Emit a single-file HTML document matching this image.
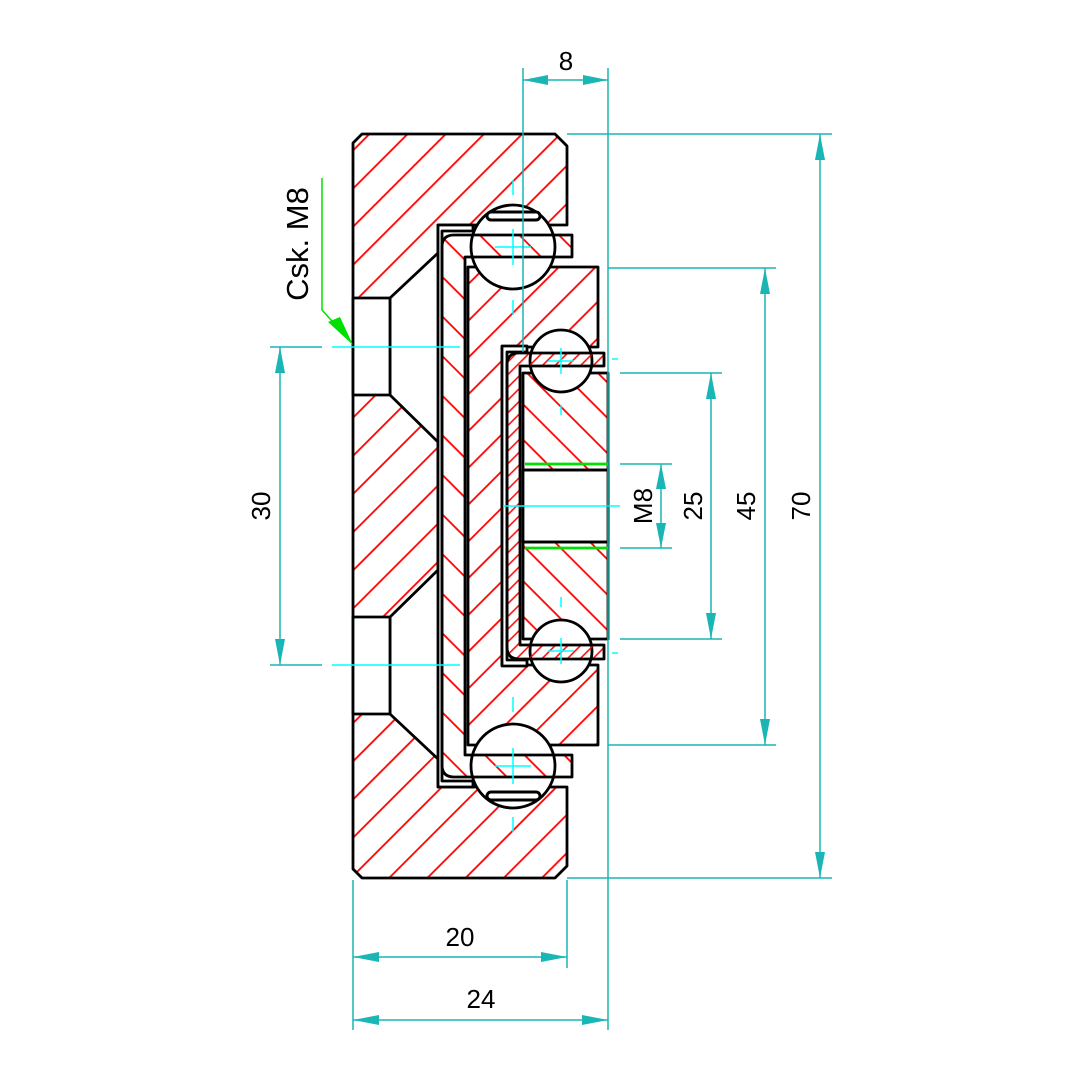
<!DOCTYPE html>
<html><head><meta charset="utf-8"><style>
html,body{margin:0;padding:0;background:#fff}
svg{display:block}
text{font-family:"Liberation Sans",sans-serif}
</style></head><body>
<svg width="1080" height="1080" viewBox="0 0 1080 1080" xmlns="http://www.w3.org/2000/svg">
<defs>
<pattern id="hA" width="27" height="27" patternUnits="userSpaceOnUse" patternTransform="rotate(45)"><line x1="5" y1="0" x2="5" y2="27" stroke="#f00" stroke-width="1.8"/></pattern>
<pattern id="hD" width="26" height="26" patternUnits="userSpaceOnUse" patternTransform="rotate(45)"><line x1="12" y1="0" x2="12" y2="26" stroke="#f00" stroke-width="1.8"/></pattern>
<pattern id="hC" width="28" height="28" patternUnits="userSpaceOnUse" patternTransform="rotate(-45)"><line x1="5" y1="0" x2="5" y2="28" stroke="#f00" stroke-width="1.8"/></pattern>
<pattern id="hG" width="25" height="25" patternUnits="userSpaceOnUse" patternTransform="rotate(-45)"><line x1="9" y1="0" x2="9" y2="25" stroke="#f00" stroke-width="1.8"/></pattern>
<pattern id="hF" width="9" height="9" patternUnits="userSpaceOnUse" patternTransform="rotate(45)"><line x1="3" y1="0" x2="3" y2="9" stroke="#f00" stroke-width="1.5"/></pattern>
</defs>

<g stroke="#000" stroke-width="2.8" stroke-linejoin="round">
<path d="M353,143 L362,134 L555,134 L567,146 L567,225 L438,225 L438,253 L390,298 L390,395 L438,442 L438,570 L390,617 L390,714 L438,759 L438,787 L567,787 L567,866 L555,878 L362,878 L353,869 Z" fill="url(#hA)"/>
<rect x="353" y="298" width="37" height="97" fill="#fff"/>
<rect x="353" y="617" width="37" height="97" fill="#fff"/>
<path d="M468,267 L598,267 L598,347 L502,347 L502,665 L598,665 L598,745 L468,745 Z" fill="url(#hD)"/>
<rect x="523" y="373" width="85" height="266" fill="url(#hG)"/>
<rect x="523" y="470" width="85" height="72" fill="#fff"/>
<circle cx="513" cy="247" r="42" fill="#fff"/>
<circle cx="513" cy="766" r="42" fill="#fff"/>
<rect x="487" y="212" width="53" height="8" rx="4" fill="#fff" stroke-width="3"/>
<rect x="487" y="792" width="53" height="8" rx="4" fill="#fff" stroke-width="3"/>
<circle cx="561" cy="361" r="31" fill="#fff"/>
<circle cx="561" cy="651" r="31" fill="#fff"/>
<path d="M438,225 L473,225 L473,231 L442,231 L442,781 L473,781 L473,787 L438,787 Z" fill="#fff"/>
<path d="M572,235 L454,235 Q442,235 442,247 L442,765 Q442,777 454,777 L572,777 L572,755 L465,755 L465,257 L572,257 Z" fill="url(#hC)"/>
<path d="M502,346 L527,346 L527,352 L507,352 L507,660 L527,660 L527,666 L502,666 Z" fill="#fff"/>
<path d="M604,353 L519,353 Q507,353 507,365 L507,647 Q507,659 519,659 L604,659 L604,645 L520,645 L520,366 L604,366 Z" fill="url(#hF)"/>
</g>
<g stroke="#000" stroke-width="2.8">
<line x1="523" y1="470" x2="608" y2="470"/>
<line x1="523" y1="542" x2="608" y2="542"/>
</g>
<g stroke="#00e000" stroke-width="2.8">
<line x1="525" y1="464" x2="608" y2="464"/>
<line x1="525" y1="548" x2="608" y2="548"/>
</g>

<g stroke="#00ffff" stroke-width="1.5">
<line x1="332" y1="347" x2="460" y2="347"/>
<line x1="332" y1="665" x2="460" y2="665"/>
<line x1="503" y1="506" x2="620" y2="506"/>
<line x1="495" y1="247" x2="531" y2="247"/><line x1="513" y1="229" x2="513" y2="265"/>
<line x1="495" y1="766" x2="531" y2="766"/><line x1="513" y1="748" x2="513" y2="784"/>
<line x1="548" y1="361" x2="574" y2="361"/><line x1="561" y1="348" x2="561" y2="374"/>
<line x1="548" y1="651" x2="574" y2="651"/><line x1="561" y1="638" x2="561" y2="664"/>
<line x1="513" y1="180" x2="513" y2="195" /><line x1="513" y1="300" x2="513" y2="315"/>
<line x1="513" y1="817" x2="513" y2="832"/><line x1="513" y1="697" x2="513" y2="712"/>
<line x1="561" y1="405" x2="561" y2="415"/><line x1="561" y1="597" x2="561" y2="607"/>
<line x1="612" y1="359" x2="618" y2="359"/><line x1="612" y1="653" x2="618" y2="653"/>
</g>

<g stroke="#1ab5b5" stroke-width="1.5" fill="none">
<line x1="523" y1="68" x2="523" y2="352"/>
<line x1="608" y1="68" x2="608" y2="1030"/>
<line x1="523" y1="80" x2="608" y2="80"/>
<line x1="567" y1="134" x2="832" y2="134"/>
<line x1="567" y1="878" x2="832" y2="878"/>
<line x1="820" y1="134" x2="820" y2="878"/>
<line x1="608" y1="268" x2="776" y2="268"/>
<line x1="608" y1="745" x2="776" y2="745"/>
<line x1="765" y1="268" x2="765" y2="745"/>
<line x1="620" y1="373" x2="722" y2="373"/>
<line x1="620" y1="639" x2="722" y2="639"/>
<line x1="711" y1="373" x2="711" y2="639"/>
<line x1="620" y1="464" x2="672" y2="464"/>
<line x1="620" y1="548" x2="672" y2="548"/>
<line x1="661" y1="464" x2="661" y2="548"/>
<line x1="270" y1="347" x2="322" y2="347"/>
<line x1="270" y1="665" x2="322" y2="665"/>
<line x1="280" y1="347" x2="280" y2="665"/>
<line x1="353" y1="880" x2="353" y2="1030"/>
<line x1="567" y1="880" x2="567" y2="968"/>
<line x1="353" y1="957" x2="567" y2="957"/>
<line x1="353" y1="1020" x2="608" y2="1020"/>
</g>
<g fill="#1ab5b5">
<polygon points="523,80 548,75 548,85"/><polygon points="608,80 583,75 583,85"/>
<polygon points="820,134 815,160 825,160"/><polygon points="820,878 815,852 825,852"/>
<polygon points="765,268 760,294 770,294"/><polygon points="765,745 760,719 770,719"/>
<polygon points="711,373 706,399 716,399"/><polygon points="711,639 706,613 716,613"/>
<polygon points="661,464 656,489 666,489"/><polygon points="661,548 656,523 666,523"/>
<polygon points="280,347 275,373 285,373"/><polygon points="280,665 275,639 285,639"/>
<polygon points="353,957 379,952 379,962"/><polygon points="567,957 541,952 541,962"/>
<polygon points="353,1020 379,1015 379,1025"/><polygon points="608,1020 582,1015 582,1025"/>
</g>

<polyline points="322,178 322,310 340,330" stroke="#00e000" stroke-width="1.5" fill="none"/>
<polygon points="353,345 328,322 340,317" fill="#00e000"/>

<g font-size="26" fill="#000" text-anchor="middle">
<text x="566" y="70">8</text>
<text x="460" y="946">20</text>
<text x="481" y="1008">24</text>
<text transform="translate(810,506) rotate(-90)">70</text>
<text transform="translate(755,506) rotate(-90)">45</text>
<text transform="translate(702,506) rotate(-90)">25</text>
<text transform="translate(652,506) rotate(-90)">M8</text>
<text transform="translate(270,506) rotate(-90)">30</text>
<text transform="translate(308,244) rotate(-90)" font-size="31">Csk. M8</text>
</g>
</svg>
</body></html>
